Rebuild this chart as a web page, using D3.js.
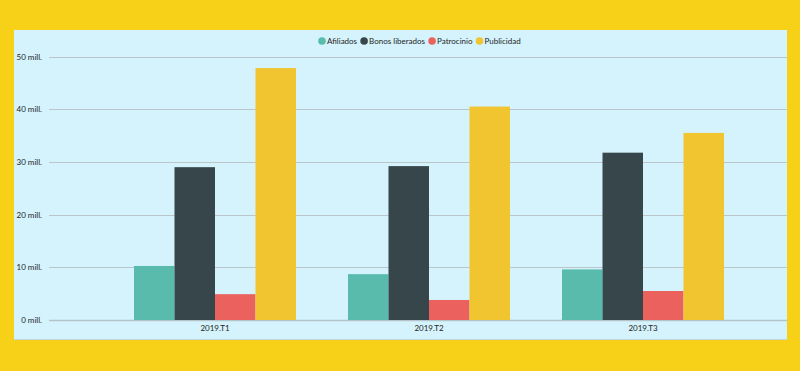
<!DOCTYPE html>
<html>
<head>
<meta charset="utf-8">
<script src="https://cdn.jsdelivr.net/npm/d3@7"></script>
<style>
  body { margin: 0; background: #f7d117; }
  svg { display: block; }
  text { font-family: Lato, "Noto Sans", sans-serif; fill: #252423; }
</style>
</head>
<body>
<div id="chart"></div>
<script>
// data
const quarters = ["2019.T1", "2019.T2", "2019.T3"];
const seriesNames = ["Afiliados", "Bonos liberados", "Patrocinio", "Publicidad"];
const colors = ["#58bbab", "#37464a", "#eb615e", "#f0c530"];
const afiliados = [10.25, 8.7, 9.6];
const bonos = [29.0, 29.2, 31.75];
const patrocinio = [4.9, 3.8, 5.5];
const publicidad = [47.8, 40.5, 35.5];
const yTicks = [0, 10, 20, 30, 40, 50];

const width = 800;
const height = 371;

const svg = d3.select('#chart')
    .append('svg')
    .attr('width', width)
    .attr('height', height);

// yellow frame + light blue panel
svg.append('rect').attr('width', width).attr('height', height).attr('fill', '#f7d117');
svg.append('rect')
    .attr('x', 14).attr('y', 30)
    .attr('width', 773).attr('height', 310)
    .attr('fill', '#d4f3fc');
svg.append('line')
    .attr('x1', 14).attr('x2', 787)
    .attr('y1', 339.5).attr('y2', 339.5)
    .attr('stroke', '#bfd6dc');

const yScale = d3.scaleLinear().domain([0, 50]).range([320, 56.5]);

const x0 = d3.scaleBand().domain(quarters)
    .range([108, 750])
    .paddingInner(0.243)
    .paddingOuter(0.1215);

const x1 = d3.scaleBand().domain(seriesNames)
    .range([0, x0.bandwidth()]);

const color = d3.scaleOrdinal(seriesNames, colors);

// gridlines
const grid = svg.append('g').attr('class', 'grid');
grid.selectAll('line')
    .data(yTicks)
    .join('line')
    .attr('x1', 49).attr('x2', 787)
    .attr('y1', d => Math.round(yScale(d)) + 0.5)
    .attr('y2', d => Math.round(yScale(d)) + 0.5)
    .attr('stroke', d => d === 0 ? '#b4c4ca' : '#bcc6ca')
    .attr('stroke-width', d => d === 0 ? 1.5 : 1);

// y labels
svg.append('g')
    .selectAll('text')
    .data(yTicks)
    .join('text')
    .attr('x', 42)
    .attr('y', d => yScale(d) + 3)
    .attr('text-anchor', 'end')
    .attr('font-size', 8)
    .text(d => d + ' mill.');

// bars
const table = quarters.map((q, i) => ({
    quarter: q,
    values: [afiliados[i], bonos[i], patrocinio[i], publicidad[i]]
}));

const groups = svg.append('g')
    .selectAll('g')
    .data(table)
    .join('g')
    .attr('transform', d => `translate(${x0(d.quarter)},0)`);

groups.selectAll('rect')
    .data(d => d.values.map((v, j) => ({ name: seriesNames[j], value: v })))
    .join('rect')
    .attr('x', d => x1(d.name))
    .attr('width', x1.bandwidth())
    .attr('y', d => yScale(d.value))
    .attr('height', d => yScale(0) - yScale(d.value))
    .attr('fill', d => color(d.name));

// x labels
svg.append('g')
    .selectAll('text')
    .data(quarters)
    .join('text')
    .attr('x', d => x0(d) + x0.bandwidth() / 2)
    .attr('y', 331)
    .attr('text-anchor', 'middle')
    .attr('font-size', 8)
    .text(d => d);

// legend, laid out left to right from measured text widths
const legend = svg.append('g');
let lx = 322;
seriesNames.forEach(name => {
    const item = legend.append('g').attr('transform', `translate(${lx},41)`);
    item.append('circle').attr('r', 3.8).attr('fill', color(name));
    const t = item.append('text')
        .attr('x', 5)
        .attr('y', 3)
        .attr('font-size', 8)
        .text(name);
    lx += 5 + t.node().getComputedTextLength() + 7;
});
</script>
</body>
</html>
